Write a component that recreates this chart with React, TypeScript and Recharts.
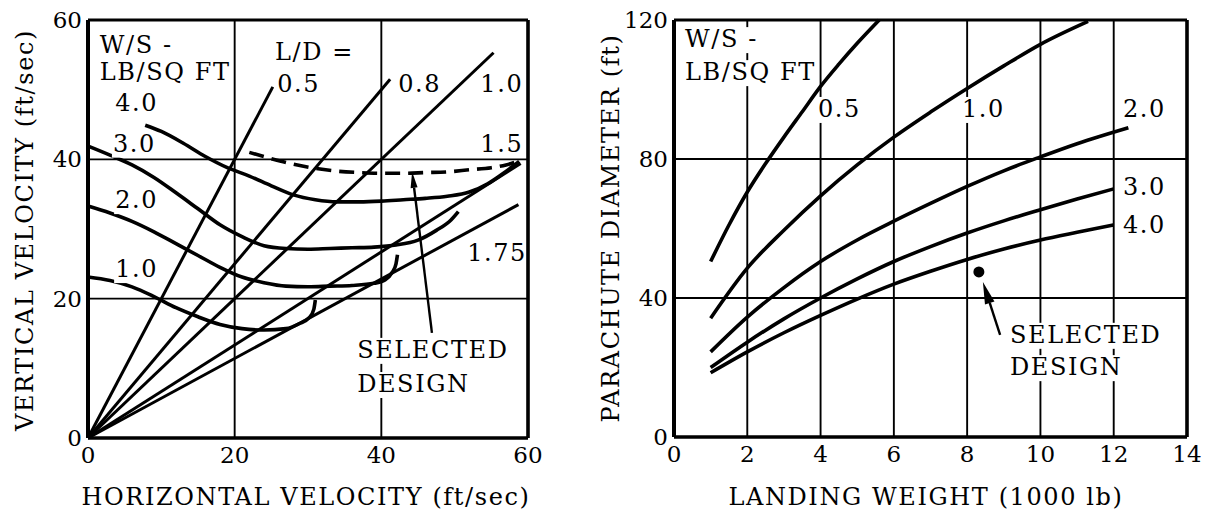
import React, { useLayoutEffect, useRef, useState } from 'react';
import {
  LineChart,
  Line,
  XAxis,
  YAxis,
  CartesianGrid,
  ReferenceLine,
  ReferenceDot,
  Label,
} from 'recharts';

const FONT = '"DejaVu Serif", "Liberation Serif", serif';

// ---- left panel: horizontal vs vertical velocity (ft/sec) ----
const hVelTicks = [0, 20, 40, 60];
const vVelTicks = [0, 20, 40, 60];

// L/D rays from the origin, end point of each ray
const ldNames = ['0.5', '0.8', '1.0', '1.5', '1.75'];
const ldEndH = [25.2, 41.2, 55.3, 59.0, 58.7];
const ldEndV = [50.4, 51.5, 55.3, 39.4, 33.5];

// W/S curves [horizontal, vertical]
const vel10: [number, number][] = [
  [0, 23.1], [3, 22.6], [6, 21.7], [9, 20.3], [12, 18.7], [15, 17.4], [18, 16.3],
  [21, 15.7], [24, 15.5], [27, 15.7], [28.8, 16.4], [30.2, 17.3], [30.8, 18.5], [31, 19.8],
];
const vel20: [number, number][] = [
  [0, 33.3], [3, 32.3], [6, 31.1], [9, 29.6], [12, 27.9], [15, 26.2], [18, 24.5],
  [21, 23.1], [24, 22.3], [27, 21.8], [30, 21.7], [33, 21.8], [36, 21.9], [39, 22.2],
  [40.5, 22.7], [41.5, 23.8], [42, 25], [42.2, 26.3],
];
const vel30: [number, number][] = [
  [0, 41.9], [3, 40.6], [6, 39.2], [9, 37.4], [12, 35.2], [15, 32.9], [18, 30.6],
  [21, 28.9], [24, 27.6], [27, 27.2], [30, 27.1], [33, 27.2], [36, 27.3], [39, 27.4],
  [42, 27.7], [45, 28.4], [47.5, 29.8], [49.5, 31.3], [50.5, 32.5],
];
const vel40: [number, number][] = [
  [7.8, 44.9], [10, 44.0], [13, 42.3], [16, 40.4], [19, 38.8], [22, 37.6], [25, 36.2],
  [28, 34.9], [31, 34.2], [34, 33.9], [37, 33.9], [40, 34.0], [43, 34.2], [46, 34.4],
  [49, 34.7], [52, 35.3], [54.5, 36.5], [56.5, 37.9], [58.8, 39.7],
];
const velSelected: [number, number][] = [
  [22, 41], [25, 40.1], [28, 39.3], [31, 38.7], [34, 38.3], [37, 38.1], [40, 38],
  [43, 38], [46, 38.1], [49, 38.2], [52, 38.5], [55, 38.8], [57, 39.2], [58.8, 39.8],
];

// ---- right panel: landing weight (1000 lb) vs parachute diameter (ft) ----
const weightTicks = [0, 2, 4, 6, 8, 10, 12, 14];
const diameterTicks = [0, 40, 80, 120];

const dia05: [number, number][] = [
  [1, 50.5], [1.5, 61], [2, 70.5], [2.5, 78.7], [3, 86.3], [3.5, 93.6],
  [4, 100.9], [4.5, 107.3], [5, 113.3], [5.6, 120],
];
const dia10: [number, number][] = [
  [1, 34.2], [2, 48.6], [3, 59.5], [4, 69.4], [5, 78.3], [6, 86.3], [7, 93.5],
  [8, 100.3], [9, 106.8], [10, 113], [11.3, 119.6],
];
const dia20: [number, number][] = [
  [1, 24.5], [2, 34.5], [3, 43], [4, 50.5], [5, 56.7], [6, 62.1], [7, 67.2],
  [8, 72.1], [9, 76.6], [10, 80.6], [11, 84.4], [12.4, 89],
];
const dia30: [number, number][] = [
  [1, 20], [2, 27.3], [3, 34], [4, 40], [5, 45.5], [6, 50.5], [7, 54.8],
  [8, 58.7], [9, 62.2], [10, 65.4], [11, 68.5], [12, 71.4],
];
const dia40: [number, number][] = [
  [1, 18.5], [2, 24.5], [3, 30], [4, 35], [5, 39.7], [6, 44], [7, 47.7],
  [8, 51.1], [9, 54.1], [10, 56.7], [11, 58.9], [12, 61],
];
const selectedWeight = 8.32;
const selectedDiameter = 47.5;

// text notes placed in data units
const leftNotes = [
  { text: 'W/S -', x: 1.6, y: 55.3 },
  { text: 'LB/SQ FT', x: 1.6, y: 51.4 },
  { text: 'L/D =', x: 25.5, y: 54.3 },
  { text: ldNames[0], x: 25.8, y: 49.7 },
  { text: ldNames[1], x: 42.3, y: 49.7 },
  { text: ldNames[2], x: 53.5, y: 49.7 },
  { text: ldNames[3], x: 53.5, y: 41.1 },
  { text: ldNames[4], x: 51.7, y: 25.4 },
  { text: '4.0', x: 3.7, y: 46.9 },
  { text: '3.0', x: 3.4, y: 41.1 },
  { text: '2.0', x: 3.7, y: 33.0 },
  { text: '1.0', x: 3.7, y: 23.1 },
  { text: 'SELECTED', x: 36.7, y: 11.5 },
  { text: 'DESIGN', x: 36.7, y: 6.6 },
];
const rightNotes = [
  { text: 'W/S -', x: 0.3, y: 112.2 },
  { text: 'LB/SQ FT', x: 0.3, y: 102.7 },
  { text: '0.5', x: 3.93, y: 92.1 },
  { text: '1.0', x: 7.86, y: 92.1 },
  { text: '2.0', x: 12.25, y: 92.1 },
  { text: '3.0', x: 12.25, y: 69.6 },
  { text: '4.0', x: 12.25, y: 58.7 },
  { text: 'SELECTED', x: 9.17, y: 27.1 },
  { text: 'DESIGN', x: 9.17, y: 17.8 },
];

const toPts = (pts: [number, number][]) => pts.map(([x, y]) => ({ x, y }));

const tickStyle = { fill: '#000', fontSize: 23, fontFamily: FONT };
const TXT = 24;
const SPACING = 1.6;

function Note({ cx, cy, text }: any) {
  const ref = useRef<SVGTextElement>(null);
  const [w, setW] = useState(0);
  useLayoutEffect(() => {
    if (ref.current) setW(ref.current.getComputedTextLength());
  }, [text]);
  return (
    <g>
      <rect x={cx - 1} y={cy - 20} width={w} height={26} fill="#fff" />
      <text ref={ref} x={cx} y={cy} fontFamily={FONT} fontSize={TXT} letterSpacing={SPACING} fill="#000">
        {text}
      </text>
    </g>
  );
}

function Arrow(p: any) {
  const { x1, y1, x2, y2, head, half } = p;
  const dx = x2 - x1;
  const dy = y2 - y1;
  const len = Math.hypot(dx, dy) || 1;
  const ux = dx / len;
  const uy = dy / len;
  const bx = x2 - ux * head;
  const by = y2 - uy * head;
  const px = -uy * half;
  const py = ux * half;
  return (
    <g>
      <line x1={x1} y1={y1} x2={bx} y2={by} stroke="#000" strokeWidth={2.4} />
      <polygon points={`${x2},${y2} ${bx + px},${by + py} ${bx - px},${by - py}`} fill="#000" />
    </g>
  );
}

const curve = (key: string, pts: [number, number][], dashed = false) => (
  <Line
    key={key}
    data={toPts(pts)}
    dataKey="y"
    type="monotone"
    stroke="#000"
    strokeWidth={3.6}
    strokeDasharray={dashed ? '15 8' : undefined}
    dot={false}
    activeDot={false}
    isAnimationActive={false}
  />
);

const frame = (xMax: number, yMax: number) => [
  <ReferenceLine key="f1" x={0} stroke="#000" strokeWidth={4} />,
  <ReferenceLine key="f2" x={xMax} stroke="#000" strokeWidth={3.6} />,
  <ReferenceLine key="f3" y={0} stroke="#000" strokeWidth={3.6} />,
  <ReferenceLine key="f4" y={yMax} stroke="#000" strokeWidth={3.2} />,
];

const App: React.FC = () => {
  return (
    <div style={{ position: 'absolute', left: 0, top: 0, width: 1213, height: 512, background: '#fff' }}>
      <div style={{ position: 'absolute', left: 0, top: 0 }}>
        <LineChart width={590} height={512} margin={{ top: 20, right: 62, bottom: 0, left: 0 }}>
          <CartesianGrid stroke="#000" strokeWidth={1.9} />
          <XAxis
            type="number"
            dataKey="x"
            domain={[0, 60]}
            ticks={hVelTicks}
            interval={0}
            height={74}
            tickLine={false}
            axisLine={false}
            tickSize={0}
            tickMargin={9}
            tick={tickStyle}
          >
            <Label
              content={() => (
                <text x={306} y={505} textAnchor="middle" fontFamily={FONT} fontSize={TXT} letterSpacing={SPACING} fill="#000">
                  HORIZONTAL VELOCITY (ft/sec)
                </text>
              )}
            />
          </XAxis>
          <YAxis
            type="number"
            domain={[0, 60]}
            ticks={vVelTicks}
            interval={0}
            width={88}
            tickLine={false}
            axisLine={false}
            tickSize={0}
            tickMargin={6}
            tick={tickStyle}
          >
            <Label
              content={() => (
                <text
                  x={33}
                  y={230}
                  transform="rotate(-90, 33, 230)"
                  textAnchor="middle"
                  fontFamily={FONT}
                  fontSize={TXT}
                  letterSpacing={SPACING}
                  fill="#000"
                >
                  VERTICAL VELOCITY (ft/sec)
                </text>
              )}
            />
          </YAxis>
          {leftNotes.map((n, i) => (
            <ReferenceDot key={'ln' + i} x={n.x} y={n.y} r={0} shape={(p: any) => <Note cx={p.cx} cy={p.cy} text={n.text} />} />
          ))}
          {ldNames.map((name, i) => (
            <Line
              key={'ld' + name}
              data={[{ x: 0, y: 0 }, { x: ldEndH[i], y: ldEndV[i] }]}
              dataKey="y"
              type="linear"
              stroke="#000"
              strokeWidth={3}
              dot={false}
              activeDot={false}
              isAnimationActive={false}
            />
          ))}
          {curve('v10', vel10)}
          {curve('v20', vel20)}
          {curve('v30', vel30)}
          {curve('v40', vel40)}
          {curve('vsel', velSelected, true)}
          <ReferenceLine
            segment={[{ x: 46.9, y: 15.1 }, { x: 44.2, y: 38.2 }]}
            shape={(p: any) => <Arrow {...p} head={16} half={3.5} />}
          />
          {frame(60, 60)}
        </LineChart>
      </div>
      <div style={{ position: 'absolute', left: 590, top: 0 }}>
        <LineChart width={623} height={512} margin={{ top: 20, right: 26, bottom: 0, left: 0 }}>
          <CartesianGrid stroke="#000" strokeWidth={1.9} />
          <XAxis
            type="number"
            dataKey="x"
            domain={[0, 14]}
            ticks={weightTicks}
            interval={0}
            height={75}
            tickLine={false}
            axisLine={false}
            tickSize={0}
            tickMargin={9}
            tick={tickStyle}
          >
            <Label
              content={() => (
                <text x={336} y={505} textAnchor="middle" fontFamily={FONT} fontSize={TXT} letterSpacing={SPACING} fill="#000">
                  LANDING WEIGHT (1000 lb)
                </text>
              )}
            />
          </XAxis>
          <YAxis
            type="number"
            domain={[0, 120]}
            ticks={diameterTicks}
            interval={0}
            width={84}
            tickLine={false}
            axisLine={false}
            tickSize={0}
            tickMargin={6}
            tick={tickStyle}
          >
            <Label
              content={() => (
                <text
                  x={29}
                  y={228}
                  transform="rotate(-90, 29, 228)"
                  textAnchor="middle"
                  fontFamily={FONT}
                  fontSize={TXT}
                  letterSpacing={SPACING}
                  fill="#000"
                >
                  PARACHUTE DIAMETER (ft)
                </text>
              )}
            />
          </YAxis>
          {rightNotes.map((n, i) => (
            <ReferenceDot key={'rn' + i} x={n.x} y={n.y} r={0} shape={(p: any) => <Note cx={p.cx} cy={p.cy} text={n.text} />} />
          ))}
          {curve('d05', dia05)}
          {curve('d10', dia10)}
          {curve('d20', dia20)}
          {curve('d30', dia30)}
          {curve('d40', dia40)}
          <ReferenceDot x={selectedWeight} y={selectedDiameter} r={5.5} fill="#000" stroke="none" />
          <ReferenceLine
            segment={[{ x: 8.9, y: 29.4 }, { x: 8.43, y: 44.6 }]}
            shape={(p: any) => <Arrow {...p} head={22} half={5} />}
          />
          {frame(14, 120)}
        </LineChart>
      </div>
    </div>
  );
};

export default App;
